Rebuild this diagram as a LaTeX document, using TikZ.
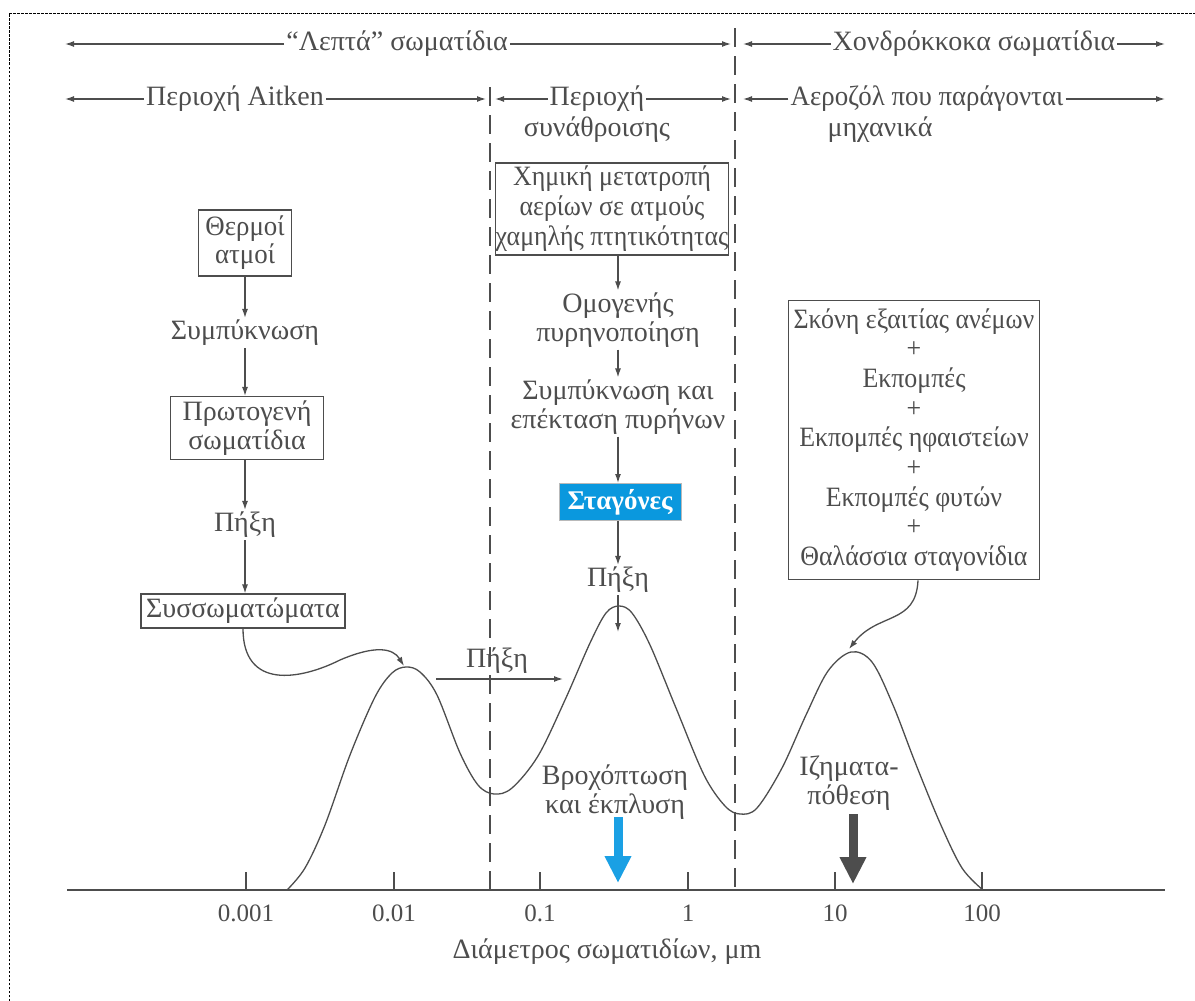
\documentclass[tikz,border=0pt]{standalone}
\usepackage{fontspec}
\setmainfont{Liberation Serif}
\newfontfamily\narrowserif[FakeStretch=0.925]{Liberation Serif}
\newfontfamily\semiserif[FakeStretch=0.96]{Liberation Serif}
\usetikzlibrary{arrows.meta}
\definecolor{ink}{HTML}{4D4D4D}
\definecolor{skyb}{HTML}{1AA0E4}
\definecolor{boxblue}{HTML}{0A98DE}
\tikzset{
  lbl/.style={text=ink, align=center, inner sep=2pt},
  box/.style={draw=ink, line width=1.3pt, text=ink, align=center, inner xsep=5pt, inner ysep=4pt},
  arr/.style={draw=ink, line width=1.3pt, -{Latex[length=9pt,width=6pt]}},
  vdash/.style={draw=ink, line width=1.3pt, dash pattern=on 19pt off 9pt},
  tick/.style={draw=ink, line width=1.2pt},
  bigarr/.style={line width=9pt, -{Triangle[length=27pt,width=25pt]}},
}
\begin{document}
\begin{tikzpicture}[x=1pt,y=-1pt, font=\fontsize{28}{29}\selectfont]
\useasboundingbox (0,0) rectangle (1195,1001);
% frame
\draw[black, line width=1pt, dash pattern=on 2.5pt off 1.5pt] (9,1001) -- (9,13) -- (1195,13);

% header row 1
\node[lbl] (lep) at (397,44) {“Λεπτά” σωματίδια};
\coordinate (lepL) at (65,44);
\coordinate (lepR) at (731,44);
\draw[arr] (lep.west) -- (lepL);
\draw[arr] (lep.east) -- (lepR);
\node[lbl] (xon) at (974,44) {Χονδρόκκοκα σωματίδια};
\coordinate (xonL) at (743,44);
\coordinate (xonR) at (1165,44);
\draw[arr] (xon.west) -- (xonL);
\draw[arr] (xon.east) -- (xonR);

% header row 2
\node[lbl] (ait) at (235,99) {Περιοχή Aitken};
\coordinate (aitL) at (65,99);
\coordinate (aitR) at (486,99);
\draw[arr] (ait.west) -- (aitL);
\draw[arr] (ait.east) -- (aitR);
\node[lbl] (syn) at (597,99) {Περιοχή};
\node[lbl] (syn2) at (597,130) {συνάθροισης};
\coordinate (synL) at (495,99);
\coordinate (synR) at (731,99);
\draw[arr] (syn.west) -- (synL);
\draw[arr] (syn.east) -- (synR);
\node[lbl, font=\semiserif\fontsize{28}{29}\selectfont] (aer) at (927,99) {Αεροζόλ που παράγονται};
\node[lbl] (aer2) at (880,130) {μηχανικά};
\coordinate (aerL) at (743,99);
\coordinate (aerR) at (1165,99);
\draw[arr] (aer.west) -- (aerL);
\draw[arr] (aer.east) -- (aerR);

% vertical dashed separators
\coordinate (d1t) at (490,87);
\coordinate (d1b) at (490,890);
\coordinate (d2t) at (735,28);
\coordinate (d2b) at (735,890);
\draw[vdash] (d1t) -- (d1b);
\draw[vdash] (d2t) -- (d2b);

% left column
\node[box, font=\semiserif\fontsize{28}{28}\selectfont, inner xsep=7pt, inner ysep=6pt] (therm) at (245,243) {Θερμοί\\ατμοί};
\node[lbl] (symp) at (245,333) {Συμπύκνωση};
\node[box, inner xsep=12pt] (prot) at (247,428) {Πρωτογενή\\σωματίδια};
\node[lbl] (pix1) at (245,525) {Πήξη};
\node[box] (syss) at (243,611) {Συσσωματώματα};
\draw[arr] (therm.south) -- (symp.north);
\draw[arr] (symp.south) -- (symp.south |- prot.north);
\draw[arr] (prot.south -| pix1.north) -- (pix1.north);
\draw[arr] (pix1.south) -- (pix1.south |- syss.north);

% middle column
\node[box, font=\narrowserif\fontsize{28}{30}\selectfont, inner xsep=0pt, inner ysep=3pt] (chem) at (612,209) {Χημική μετατροπή\\αερίων σε ατμούς\\χαμηλής πτητικότητας};
\node[lbl] (omog) at (618,320) {Ομογενής\\πυρηνοποίηση};
\node[lbl] (epek) at (618,407) {Συμπύκνωση και\\επέκταση πυρήνων};
\node[draw=gray!55, line width=1pt, fill=boxblue, text=white, font=\bfseries\fontsize{27}{29}\selectfont, minimum width=122pt, minimum height=37pt, inner sep=0pt] (stag) at (620,502) {Σταγόνες};
\node[lbl] (pix2) at (618,580) {Πήξη};
\coordinate (pk2) at (618,632);
\draw[arr] (chem.south -| omog.north) -- (omog.north);
\draw[arr] (omog.south) -- (epek.north);
\draw[arr] (epek.south) -- (epek.south |- stag.north);
\draw[arr] (stag.south -| pix2.north) -- (pix2.north);
\draw[arr] (pix2.south) -- (pk2);

% right box
\node[box, font=\narrowserif\fontsize{28}{29.7}\selectfont, inner ysep=8pt] (src) at (914,440) {Σκόνη εξαιτίας ανέμων\\+\\Εκπομπές\\+\\Εκπομπές ηφαιστείων\\+\\Εκπομπές φυτών\\+\\Θαλάσσια σταγονίδια};

% distribution curve
\draw[draw=ink, line width=1.3pt] plot[smooth, tension=0.55] coordinates {
 (287,890) (305,868) (325,825) (350,755) (375,697) (392,673) (406,667) (420,672) (437,695) (460,753) (478,785) (494,794) (512,788) (538,756) (565,700) (590,643) (606,613) (619,606) (632,613) (650,645) (676,708) (704,775) (725,806) (740,814) (757,808) (782,768) (806,715) (828,671) (851,652) (872,662) (893,705) (915,762) (940,823) (962,868) (983,890)};

% axis
\coordinate (axL) at (67,890);
\coordinate (axR) at (1165,890);
\draw[draw=ink, line width=1.6pt] (axL) -- (axR);
\foreach \xx/\lab/\nm in {246/0.001/a, 394/0.01/b, 540/0.1/c, 688/1/d, 835/10/e, 982/100/f}{
  \draw[tick] (\xx,890) -- (\xx,872);
  \node[lbl, font=\fontsize{25}{28}\selectfont] (t\nm) at (\xx,913) {\lab};
}
\node[lbl] (axt) at (607,952) {Διάμετρος σωματιδίων, μm};

% curved arrows onto peaks
\coordinate (pk1) at (404,666);
\draw[arr] (syss.south) .. controls (243,690) and (300,680) .. (340,660) .. controls (375,645) and (393,648) .. (pk1);
\coordinate (pk3) at (849,649);
\draw[arr] ([xshift=4pt]src.south) .. controls (916,625) and (878,612) .. (pk3);

% horizontal Πήξη
\node[lbl] (pix3) at (497,661) {Πήξη};
\coordinate (hA) at (436,679);
\coordinate (hB) at (563,679);
\draw[arr] (hA) -- (hB);

% removal arrows
\node[lbl] (vrox) at (615,792) {Βροχόπτωση\\και έκπλυση};
\coordinate (bA) at (618,817);
\coordinate (bB) at (618,883);
\draw[bigarr, draw=skyb, fill=skyb] (bA) -- (bB);
\node[lbl] (izim) at (849,783) {Ιζηματα-\\πόθεση};
\coordinate (gA) at (853,814);
\coordinate (gB) at (853,884);
\draw[bigarr, draw=ink, fill=ink] (gA) -- (gB);
\end{tikzpicture}
\end{document}
